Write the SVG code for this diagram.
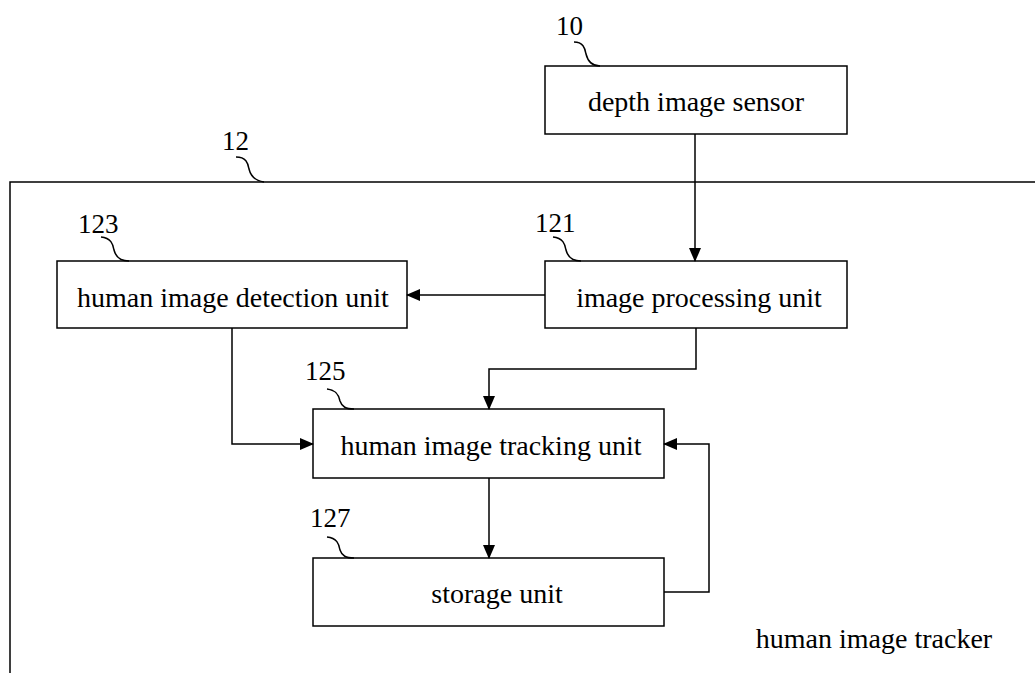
<svg xmlns="http://www.w3.org/2000/svg" width="1035" height="673" viewBox="0 0 1035 673">
<style>
.box{fill:#fff;stroke:#000;stroke-width:1.5}
.t{font-family:"Liberation Serif","Times New Roman",serif;font-size:28px;fill:#000}
.n{font-family:"Liberation Serif","Times New Roman",serif;font-size:27px;fill:#000}
.c{fill:none;stroke:#000;stroke-width:1.5}
.sq{fill:none;stroke:#000;stroke-width:1.5}
</style>
<defs>
<marker id="ah" markerWidth="14" markerHeight="12" refX="13" refY="6" orient="auto" markerUnits="userSpaceOnUse">
<path d="M0,0 L14,6 L0,12 Z" fill="#000"/>
</marker>
</defs>
<rect width="1035" height="673" fill="#fff"/>
<g id="tracker">
<path class="c" d="M10,673 L10,182 L1035,182"/>
<text class="n" x="222" y="150">12</text>
<path class="sq" d="M236,157 C246,157 248,163 249,169 C251,177 256,181 264,182"/>
<text class="t" x="874" y="648" text-anchor="middle">human image tracker</text>
</g>
<g id="sensor">
<rect class="box" x="545" y="66" width="302" height="68"/>
<text class="t" x="696" y="111" text-anchor="middle">depth image sensor</text>
<text class="n" x="556" y="35">10</text>
<path class="sq" d="M574,42 C583,42 585,48 586,54 C588,62 592,66 600,66"/>
</g>
<g id="processing">
<rect class="box" x="545" y="261" width="302" height="67"/>
<text class="t" x="699" y="307" text-anchor="middle">image processing unit</text>
<text class="n" x="535" y="232">121</text>
<path class="sq" d="M553,237 C563,238 565,244 566,250 C568,258 573,261 581,261"/>
</g>
<g id="detection">
<rect class="box" x="57" y="261" width="350" height="67"/>
<text class="t" x="233" y="307" text-anchor="middle">human image detection unit</text>
<text class="n" x="78" y="233">123</text>
<path class="sq" d="M101,237 C111,238 113,244 114,250 C116,258 121,261 129,261"/>
</g>
<g id="tracking">
<rect class="box" x="313" y="409" width="351" height="69"/>
<text class="t" x="491" y="455" text-anchor="middle">human image tracking unit</text>
<text class="n" x="305" y="380">125</text>
<path class="sq" d="M327,389 C337,390 339,396 340,401 C342,407 346,409 354,409"/>
</g>
<g id="storage">
<rect class="box" x="313" y="558" width="351" height="68"/>
<text class="t" x="497" y="603" text-anchor="middle">storage unit</text>
<text class="n" x="310" y="527">127</text>
<path class="sq" d="M327,537 C337,538 339,544 340,550 C342,556 346,558 354,558"/>
</g>
<g id="connectors">
<path class="c" d="M695,134 L695,261" marker-end="url(#ah)"/>
<path class="c" d="M545,295 L407,295" marker-end="url(#ah)"/>
<path class="c" d="M696,328 L696,369 L489,369 L489,409" marker-end="url(#ah)"/>
<path class="c" d="M232,328 L232,444 L313,444" marker-end="url(#ah)"/>
<path class="c" d="M489,478 L489,558" marker-end="url(#ah)"/>
<path class="c" d="M664,592 L709,592 L709,444 L664,444" marker-end="url(#ah)"/>
</g>
</svg>
